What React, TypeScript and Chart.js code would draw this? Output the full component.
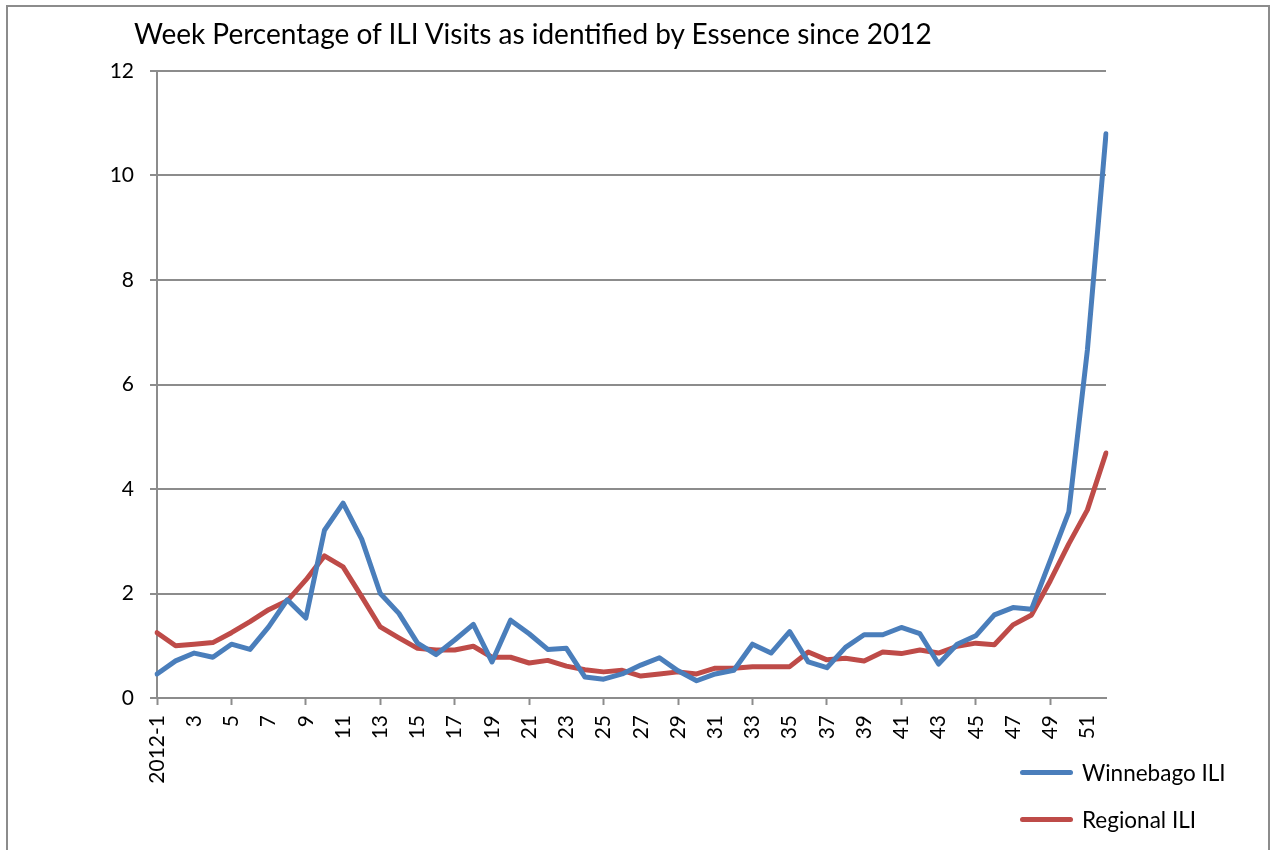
import React, { useEffect, useRef } from "react";
import { Chart, registerables } from "chart.js";

Chart.register(...registerables);

const chartTitle = "Week Percentage of ILI Visits as identified by Essence since 2012";

const weeks = [
  "2012-1", "2", "3", "4", "5", "6", "7", "8", "9", "10",
  "11", "12", "13", "14", "15", "16", "17", "18", "19", "20",
  "21", "22", "23", "24", "25", "26", "27", "28", "29", "30",
  "31", "32", "33", "34", "35", "36", "37", "38", "39", "40",
  "41", "42", "43", "44", "45", "46", "47", "48", "49", "50",
  "51", "52",
];

const winnebagoILI = [
  0.46, 0.71, 0.86, 0.78, 1.03, 0.93, 1.36, 1.88, 1.53, 3.21,
  3.73, 3.04, 2.0, 1.62, 1.05, 0.83, 1.11, 1.41, 0.69, 1.49,
  1.23, 0.93, 0.95, 0.4, 0.36, 0.46, 0.63, 0.77, 0.52, 0.33,
  0.46, 0.53, 1.03, 0.86, 1.27, 0.69, 0.58, 0.97, 1.21, 1.21,
  1.35, 1.23, 0.65, 1.03, 1.19, 1.59, 1.73, 1.7, 2.63, 3.56,
  6.66, 10.8,
];

const regionalILI = [
  1.25, 1.0, 1.03, 1.06, 1.25, 1.46, 1.69, 1.86, 2.26, 2.72,
  2.51, 1.94, 1.36, 1.15, 0.95, 0.92, 0.92, 0.99, 0.78, 0.78,
  0.67, 0.72, 0.61, 0.54, 0.5, 0.53, 0.42, 0.46, 0.5, 0.46,
  0.57, 0.57, 0.6, 0.6, 0.6, 0.88, 0.73, 0.76, 0.71, 0.88,
  0.85, 0.92, 0.86, 0.99, 1.05, 1.02, 1.4, 1.59, 2.24, 2.95,
  3.6, 4.69,
];

const seriesNames = ["Winnebago ILI", "Regional ILI"];
const seriesColors = ["#4A7EBB", "#BE4B48"];

const yMin = 0;
const yMax = 12;
const yStep = 2;

const GRID = "#8c8c8c";
const FONT = "Lato, 'Liberation Sans', sans-serif";

export default function App() {
  const canvasRef = useRef<HTMLCanvasElement>(null);

  useEffect(() => {
    if (!canvasRef.current) return;
    const chart = new Chart(canvasRef.current, {
      type: "line",
      data: {
        labels: weeks,
        datasets: [
          {
            label: seriesNames[0],
            data: winnebagoILI,
            borderColor: seriesColors[0],
            backgroundColor: seriesColors[0],
            borderWidth: 5,
            pointRadius: 0,
            tension: 0,
            borderJoinStyle: "round",
            borderCapStyle: "round",
          },
          {
            label: seriesNames[1],
            data: regionalILI,
            borderColor: seriesColors[1],
            backgroundColor: seriesColors[1],
            borderWidth: 5,
            pointRadius: 0,
            tension: 0,
            borderJoinStyle: "round",
            borderCapStyle: "round",
          },
        ],
      },
      options: {
        responsive: false,
        animation: false,
        devicePixelRatio: 1,
        layout: { padding: { left: 0, top: 71, right: 165, bottom: 0 } },
        plugins: {
          legend: { display: false },
          title: { display: false },
          tooltip: { enabled: false },
        },
        scales: {
          x: {
            grid: {
              drawOnChartArea: false,
              drawTicks: true,
              tickLength: 7,
              tickWidth: 2,
              tickColor: (ctx: any) => (ctx.index % 4 === 0 ? GRID : "rgba(0,0,0,0)"),
            },
            border: { color: GRID, width: 2 },
            ticks: {
              autoSkip: false,
              maxRotation: 90,
              minRotation: 90,
              padding: 10,
              color: "#000",
              font: { family: FONT, size: 21 },
              callback: (_v: any, i: number) => (i % 2 === 0 ? weeks[i] : ""),
            },
            afterFit: (s: any) => {
              s.height = 152;
            },
          },
          y: {
            min: yMin,
            max: yMax,
            ticks: {
              stepSize: yStep,
              padding: 16,
              color: "#000",
              font: { family: FONT, size: 21 },
            },
            grid: { color: GRID, lineWidth: 2, tickLength: 7, drawTicks: true },
            border: { color: GRID, width: 2 },
            afterFit: (s: any) => {
              s.width = 157;
            },
          },
        },
      },
    });
    return () => chart.destroy();
  }, []);

  const legendItem = (i: number, top: number) => (
    <div key={i} style={{ position: "absolute", left: 1020, top, height: 30, display: "flex", alignItems: "center" }}>
      <div style={{ width: 53, height: 5, borderRadius: 3, background: seriesColors[i], marginRight: 9 }} />
      <span style={{ fontFamily: FONT, fontSize: 22.5, color: "#000", whiteSpace: "nowrap" }}>{seriesNames[i]}</span>
    </div>
  );

  return (
    <div style={{ position: "absolute", left: 0, top: 0, width: 1271, height: 850, overflow: "hidden", background: "#fff" }}>
      <canvas ref={canvasRef} width={1271} height={850} style={{ position: "absolute", left: 0, top: 0 }} />
      <div style={{ position: "absolute", left: 6, top: 5, width: 1260, height: 900, border: `2px solid ${GRID}`, pointerEvents: "none" }} />
      <div style={{ position: "absolute", left: 134, top: 16, fontFamily: FONT, fontSize: 28, color: "#000", whiteSpace: "nowrap", lineHeight: "34px" }}>
        {chartTitle}
      </div>
      {legendItem(0, 757)}
      {legendItem(1, 804)}
    </div>
  );
}
